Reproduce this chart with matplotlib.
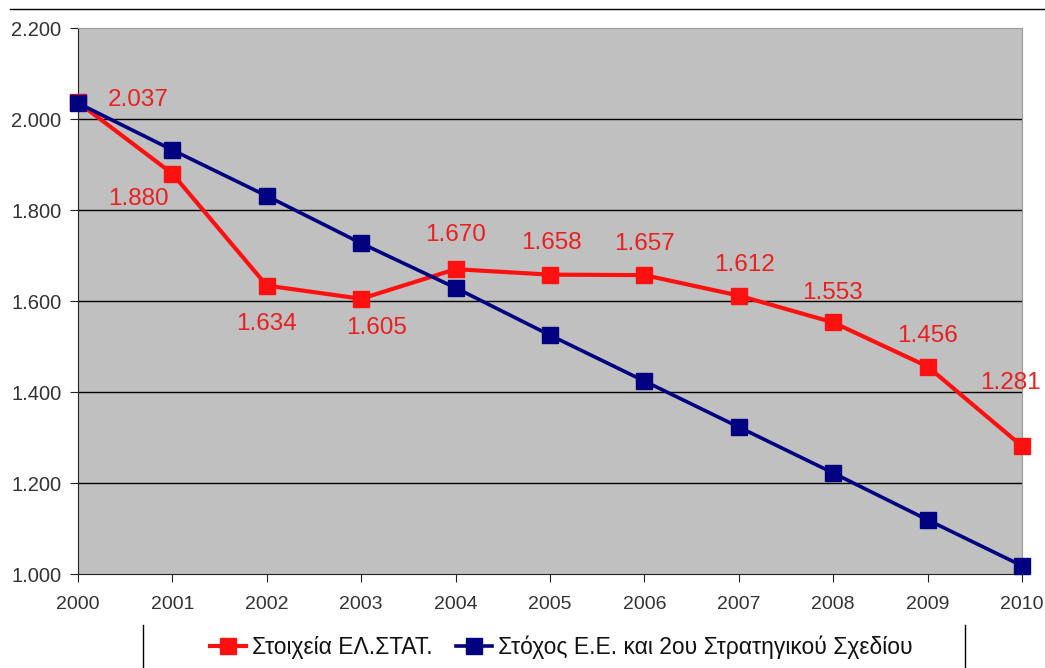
import matplotlib
matplotlib.use('Agg')
import matplotlib.pyplot as plt
from matplotlib.lines import Line2D

plt.rcParams['font.family'] = ['Liberation Sans', 'DejaVu Sans']

# δεδομένα
years = ['2000', '2001', '2002', '2003', '2004', '2005', '2006', '2007', '2008', '2009', '2010']
elstat = [2037, 1880, 1634, 1605, 1670, 1658, 1657, 1612, 1553, 1456, 1281]
target = [2035, 1932, 1831, 1727, 1629, 1525, 1424, 1323, 1222, 1119, 1018]
elstat_labels = ['2.037', '1.880', '1.634', '1.605', '1.670', '1.658', '1.657', '1.612', '1.553', '1.456', '1.281']
y_ticks = [1000, 1200, 1400, 1600, 1800, 2000, 2200]
y_ticklabels = ['1.000', '1.200', '1.400', '1.600', '1.800', '2.000', '2.200']

# θέσεις ετικετών (pixels)
label_offsets = [(60, 2), (-34, -25), (0, -38), (15, -29), (0, 34), (1, 32),
                 (0, 31), (6, 31), (-1, 29), (0, 31), (-12, 63)]

fig = plt.figure(figsize=(10.45, 6.68), dpi=100)
ax = fig.add_axes([0.0746, 0.1407, 0.9034, 0.8173])
ax.set_facecolor('#c0c0c0')

x = list(range(len(years)))
ax.plot(x, elstat, '-s', color='#ff1010', lw=3, ms=11, label='Στοιχεία ΕΛ.ΣΤΑΤ.',
        zorder=3, clip_on=False)
ax.plot(x, target, '-s', color='#000080', lw=2.6, ms=11, label='Στόχος Ε.Ε. και 2ου Στρατηγικού Σχεδίου',
        zorder=4, clip_on=False)

for i, lab in enumerate(elstat_labels):
    ax.annotate(lab, (x[i], elstat[i]), xytext=label_offsets[i], textcoords='offset pixels',
                ha='center', va='center', fontsize=17.5, color='#e82020', zorder=5)

ax.set_xlim(0, len(years) - 1)
ax.set_ylim(1000, 2200)
ax.set_xticks(x)
ax.set_xticklabels(years)
ax.set_yticks(y_ticks)
ax.set_yticklabels(y_ticklabels)
ax.tick_params(axis='both', colors='#333333', length=6, direction='out')
ax.tick_params(axis='y', labelsize=14.5, pad=6)
ax.tick_params(axis='x', labelsize=14, pad=10)
ax.tick_params(axis='both', color='#222222')
for v in y_ticks[1:-1]:
    ax.axhline(v, color='black', lw=1, zorder=1)

ax.spines['left'].set_color('#222222')
ax.spines['bottom'].set_color('#222222')
ax.spines['top'].set_color('#999999')
ax.spines['right'].set_color('#999999')

# γραμμή στην κορυφή
fig.add_artist(Line2D([0.01, 1.0], [1 - 9 / 668, 1 - 9 / 668], color='black', lw=1))

# υπόμνημα
fig.legend(loc='center', bbox_to_anchor=(0.537, 0.031), ncol=2, frameon=False,
           fontsize=16.5, handlelength=1.6, columnspacing=1.0, handletextpad=0.25,
           labelcolor='#111111')
for xx in [143 / 1045, 965 / 1045]:
    fig.add_artist(Line2D([xx, xx], [0, 1 - 625 / 668], color='black', lw=1))

fig.savefig('out.png', dpi=100)
